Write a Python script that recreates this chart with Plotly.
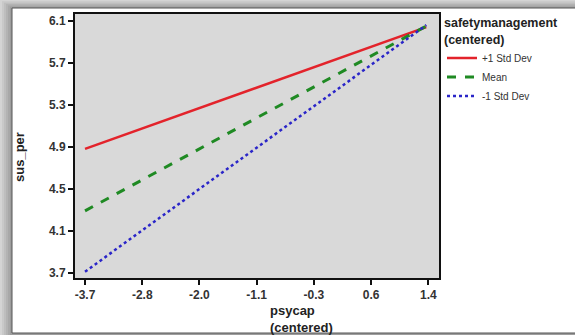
import plotly.graph_objects as go

# Data
psycap_x = [-3.7, 1.37]
plus1_sd = [4.88, 6.04]
mean_sd = [4.29, 6.05]
minus1_sd = [3.71, 6.06]
series_names = ["+1 Std Dev", "Mean", "-1 Std Dev"]

x_tickvals = [-3.7, -2.85, -2.0, -1.15, -0.3, 0.55, 1.4]
x_ticktext = ["-3.7", "-2.8", "-2.0", "-1.1", "-0.3", "0.6", "1.4"]
y_tickvals = [3.7, 4.1, 4.5, 4.9, 5.3, 5.7, 6.1]

W, H = 575, 335
L, R, T, B = 75, 136, 14, 57
PW, PH = W - L - R, H - T - B

def px(x):
    return (x - L) / PW

def py(y):
    return (H - B - y) / PH

fig = go.Figure()
fig.add_trace(go.Scatter(x=psycap_x, y=plus1_sd, mode="lines", name=series_names[0],
                         line=dict(color="#e3232b", width=2.5, dash="solid")))
fig.add_trace(go.Scatter(x=psycap_x, y=mean_sd, mode="lines", name=series_names[1],
                         line=dict(color="#1f8a23", width=3, dash="dash")))
fig.add_trace(go.Scatter(x=psycap_x, y=minus1_sd, mode="lines", name=series_names[2],
                         line=dict(color="#2a25c8", width=2.5, dash="dot")))

shapes = []
def grey(v):
    return "rgb(%d,%d,%d)" % (v, v, v)

# shadow gradient: nested rects, darker toward the panel edge
for i in range(6):
    v = 212 - i * 11
    shapes.append(dict(type="rect", xref="paper", yref="paper", layer="below",
                       x0=px(2 * i), x1=px(W + 5), y0=py(H + 5), y1=py(1.35 * i),
                       fillcolor=grey(v), line=dict(width=0)))
# white panel
shapes.append(dict(type="rect", xref="paper", yref="paper", layer="below",
                   x0=px(12), x1=px(W + 5), y0=py(333), y1=py(8),
                   fillcolor="white", line=dict(color="#555555", width=1)))
# plot-area background
shapes.append(dict(type="rect", xref="paper", yref="paper", layer="below",
                   x0=0, x1=1, y0=0, y1=1,
                   fillcolor="#d9d9d9", line=dict(width=0)))
fig.update_layout(shapes=shapes)

fig.add_annotation(xref="paper", yref="paper", x=px(268), y=py(301),
                   xanchor="left", yanchor="top", align="left", showarrow=False,
                   text="<b>psycap<br>(centered)</b>",
                   font=dict(family="Liberation Sans, Arial", size=13, color="#222"))
fig.add_annotation(xref="paper", yref="paper", x=px(19), y=py(157),
                   xanchor="center", yanchor="middle", textangle=-90, showarrow=False,
                   text="<b>sus_per</b>",
                   font=dict(family="Liberation Sans, Arial", size=13, color="#222"))

fig.update_layout(
    width=W, height=H,
    margin=dict(l=L, r=R, t=T, b=B, autoexpand=False),
    paper_bgcolor=grey(212),
    plot_bgcolor="#d9d9d9",
    font=dict(family="Liberation Sans, Arial", size=12, color="#333"),
    legend=dict(
        x=px(442), y=py(11), xanchor="left", yanchor="top",
        bgcolor="rgba(0,0,0,0)",
        title=dict(text="<b>safetymanagement<br>(centered)</b>",
                   font=dict(size=12.5, color="#222")),
        font=dict(size=10, color="#333"),
        tracegroupgap=0,
    ),
    xaxis=dict(range=[-3.849, 1.559], tickmode="array", tickvals=x_tickvals,
               ticktext=["<b>%s</b>" % t for t in x_ticktext],
               showgrid=False, zeroline=False, showline=True, linecolor="#111",
               linewidth=2, mirror=True, ticks="outside", ticklen=5, tickwidth=2,
               tickcolor="#111", tickfont=dict(size=12, color="#333")),
    yaxis=dict(range=[3.65, 6.165], tickmode="array", tickvals=y_tickvals,
               ticktext=["<b>%.1f</b>" % v for v in y_tickvals],
               showgrid=False, zeroline=False, showline=True, linecolor="#111",
               linewidth=2, mirror=True, ticks="outside", ticklen=5, tickwidth=2,
               tickcolor="#111", tickfont=dict(size=12, color="#333")),
)

fig.write_html("out.html", config={"displayModeBar": False},
               post_script="document.body.style.margin='0';")
